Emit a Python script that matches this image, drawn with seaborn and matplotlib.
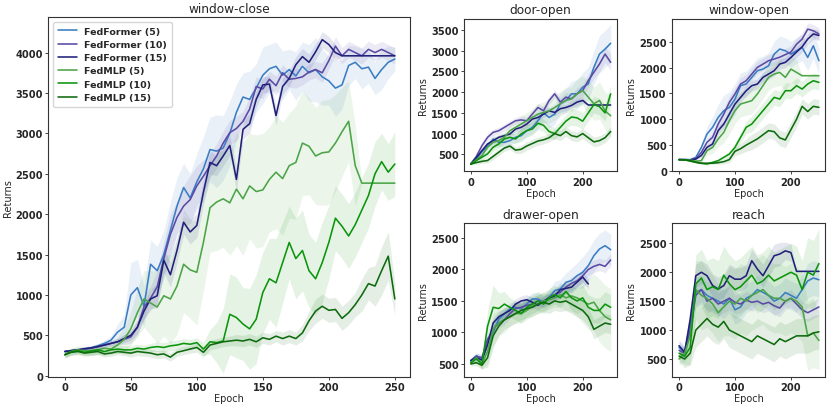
import numpy as np
import matplotlib
matplotlib.use("Agg")
import matplotlib.pyplot as plt
import seaborn as sns

nan = np.nan

# epochs
ep5 = np.arange(0, 251, 5)
ep10 = np.arange(0, 251, 10)

labels = ["FedFormer (5)", "FedFormer (10)", "FedFormer (15)",
          "FedMLP (5)", "FedMLP (10)", "FedMLP (15)"]
colors = ["#3a7dc3", "#5a4aa4", "#20207a", "#4ba447", "#0c940c", "#0d6a0d"]

# window-close (every 5 epochs)
wc_ff5 = [300, 310, 320, 330, 345, 370, 400, 440, 540, 600, 1000, 1090, 860, 1380, 1300, 1500, 1800,
          2100, 2330, 2200, 2400, 2560, 2800, 2780, 2820, 3000, 3260, 3450, 3420, 3560, 3720, 3800,
          3830, 3720, 3790, 3710, 3830, 3750, 3790, 3700, 3650, 3560, 3600, 3840, 3880, 3800, 3820,
          3680, 3790, 3880, 3920]
wc_ff10 = [300, 310, 320, 330, 340, 360, 380, 400, 420, 450, 480, 600, 850, 960, 1100, 1450, 1750,
           1960, 2100, 2180, 2350, 2470, 2600, 2720, 2880, 3010, 3060, 3150, 3300, 3580, 3550, 3670,
           3590, 3750, 3670, 3680, 3700, 3760, 3790, 3750, 3900, 4080, 3960, 4040, 4000, 3960, 4040,
           4000, 4040, 4000, 3960]
wc_ff15 = [300, 310, 320, 335, 345, 360, 380, 400, 420, 460, 500, 600, 800, 950, 990, 1430, 1250,
           1550, 1900, 1780, 1860, 2270, 2640, 2600, 2720, 2850, 2430, 3050, 3120, 3420, 3600, 3610,
           3220, 3580, 3680, 3850, 3950, 3880, 4010, 4160, 4100, 4000, 3960, 3960, 3960, 3960, 3960,
           3960, 3960, 3960, 3960]
wc_mlp5 = [260, 300, 320, 310, 300, 320, 340, 330, 380, 450, 580, 780, 950, 900, 850, 990, 950,
           1110, 1380, 1310, 1280, 1650, 2080, 2150, 2190, 2140, 2310, 2190, 2350, 2280, 2300, 2430,
           2520, 2440, 2600, 2640, 2880, 2840, 2720, 2760, 2770, 2880, 3020, 3150, 2600, 2384, 2384,
           2384, 2384, 2384, 2384]
wc_mlp10 = [260, 300, 310, 290, 310, 320, 300, 320, 330, 320, 320, 340, 330, 350, 360, 350, 370,
            380, 400, 390, 410, 330, 420, 410, 430, 760, 720, 640, 580, 700, 1030, 1200, 1150, 1400,
            1650, 1450, 1550, 1300, 1200, 1400, 1650, 1950, 1850, 1730, 1870, 2050, 2230, 2500, 2650,
            2520, 2620]
wc_mlp15 = [260, 290, 300, 280, 290, 300, 270, 280, 300, 290, 280, 300, 290, 280, 260, 270, 230,
            290, 310, 330, 350, 290, 380, 400, 420, 430, 440, 430, 450, 420, 470, 450, 490, 460, 490,
            460, 530, 680, 800, 860, 810, 820, 710, 780, 880, 1000, 1140, 1110, 1300, 1480, 950]

wc_ff5_sd = [20, 20, 25, 25, 30, 30, 40, 50, 100, 150, 400, 350, 250, 300, 300, 300, 350, 350, 300,
             300, 350, 400, 400, 450, 400, 400, 350, 300, 350, 300, 350, 300, 300, 300, 250, 300, 300,
             350, 400, 350, 300, 350, 300, 250, 200, 250, 200, 200, 250, 200, 150]
wc_ff10_sd = [20, 20, 20, 25, 25, 30, 30, 35, 40, 60, 80, 100, 150, 150, 200, 200, 250, 200, 250, 300,
              250, 200, 150, 150, 150, 150, 150, 120, 150, 120, 120, 100, 120, 100, 100, 120, 100, 100,
              100, 120, 100, 120, 100, 100, 100, 100, 100, 100, 100, 100, 100]
wc_ff15_sd = [20, 20, 20, 25, 25, 30, 30, 35, 40, 50, 60, 80, 100, 120, 150, 150, 150, 150, 150, 150,
              150, 150, 150, 120, 120, 120, 150, 120, 120, 100, 100, 100, 120, 100, 100, 100, 100, 100,
              100, 100, 100, 100, 0, 0, 0, 0, 0, 0, 0, 0, 0]
wc_mlp5_sd = [40, 40, 50, 50, 50, 60, 60, 60, 100, 150, 200, 300, 350, 400, 450, 500, 550, 600, 600,
              600, 650, 600, 550, 600, 600, 650, 700, 700, 650, 700, 700, 650, 700, 700, 650, 700, 650,
              600, 600, 650, 650, 600, 550, 500, 500, 0, 0, 0, 0, 0, 0]
wc_mlp10_sd = [40, 40, 40, 40, 50, 50, 50, 50, 50, 50, 50, 50, 50, 50, 60, 60, 60, 60, 60, 60, 60, 80,
               150, 250, 400, 500, 500, 450, 500, 550, 500, 500, 550, 500, 450, 500, 500, 450, 450, 500,
               450, 400, 400, 400, 400, 400, 400, 400, 350, 350, 400]
wc_mlp15_sd = [40, 40, 40, 40, 40, 40, 40, 40, 40, 40, 50, 50, 50, 50, 50, 50, 50, 50, 50, 50, 60, 60,
               60, 60, 60, 60, 70, 70, 70, 70, 70, 70, 70, 80, 80, 80, 100, 120, 150, 150, 150, 150, 150,
               150, 150, 200, 200, 250, 300, 300, 200]

# door-open (every 10 epochs)
do_ff5 = [266, 400, 560, 700, 870, 790, 790, 830, 910, 950, 1070, 1150, 1310, 1500, 1390, 1470, 1720,
          1800, 1960, 1960, 2120, 2200, 2600, 2920, 3040, 3180]
do_ff10 = [266, 450, 710, 910, 1030, 1070, 1150, 1230, 1310, 1330, 1310, 1470, 1630, 1550, 1800, 1960,
           1760, 1880, 1840, 1960, 2040, 2280, 2480, 2680, 2920, 2720]
do_ff15 = [266, 420, 590, 750, 830, 910, 950, 990, 1110, 1150, 1230, 1350, 1390, 1470, 1550, 1510,
           1600, 1630, 1680, 1760, 1800, 1690, 1690, 1690, 1690, 1690]
do_mlp5 = [266, 370, 470, 670, 790, 830, 910, 1070, 1150, 1230, 1310, 1390, 1470, 1510, 1550, 1630,
           1720, 1800, 1840, 1960, 2040, 1880, 1720, 1800, 1550, 1430]
do_mlp10 = [266, 350, 430, 510, 670, 750, 870, 910, 870, 990, 1070, 1110, 1250, 1200, 1050, 1000, 1150,
            1300, 1400, 1380, 1300, 1500, 1700, 1650, 1500, 1960]
do_mlp15 = [266, 300, 330, 350, 450, 550, 650, 700, 600, 620, 700, 760, 820, 850, 900, 1000, 950, 1050,
            950, 920, 1000, 900, 800, 830, 900, 1050]
do_ff5_sd = [20, 40, 60, 80, 100, 100, 100, 100, 120, 150, 150, 150, 200, 200, 250, 250, 250, 300, 300,
             350, 350, 400, 400, 450, 450, 450]
do_ff10_sd = [20, 40, 60, 80, 80, 80, 80, 80, 80, 100, 100, 100, 100, 100, 100, 100, 100, 120, 120, 150,
              150, 150, 150, 200, 200, 200]
do_ff15_sd = [20, 40, 50, 60, 60, 60, 60, 60, 60, 80, 80, 80, 80, 80, 80, 80, 80, 80, 80, 80, 80, 0, 0,
              0, 0, 0]
do_mlp5_sd = [20, 50, 80, 100, 120, 150, 150, 150, 150, 200, 200, 200, 250, 250, 300, 300, 300, 300,
              300, 350, 350, 400, 400, 450, 450, 500]
do_mlp10_sd = [20, 50, 60, 80, 100, 100, 120, 120, 120, 150, 150, 150, 150, 150, 150, 150, 150, 150,
               200, 200, 200, 200, 200, 200, 200, 200]
do_mlp15_sd = [20, 40, 50, 60, 80, 80, 80, 80, 80, 100, 100, 100, 100, 100, 100, 120, 120, 120, 120,
               120, 120, 120, 120, 120, 120, 120]

# window-open
wo_ff5 = [219, 219, 219, 264, 457, 715, 844, 1037, 1166, 1230, 1391, 1649, 1681, 1810, 1938, 1970,
          2035, 2260, 2357, 2325, 2260, 2325, 2389, 2196, 2421, 2132]
wo_ff10 = [219, 219, 215, 240, 360, 554, 650, 908, 1101, 1327, 1488, 1681, 1745, 1874, 2003, 2067,
           2132, 2164, 2200, 2250, 2300, 2450, 2550, 2743, 2711, 2650]
wo_ff15 = [219, 219, 215, 230, 300, 457, 522, 780, 908, 1101, 1294, 1423, 1552, 1649, 1681, 1810, 1874,
           1938, 2067, 2100, 2196, 2300, 2400, 2550, 2650, 2620]
wo_mlp5 = [219, 215, 210, 190, 200, 393, 457, 618, 747, 972, 1166, 1294, 1327, 1359, 1488, 1649, 1810,
           1874, 1906, 1810, 1970, 1906, 1842, 1842, 1842, 1842]
wo_mlp10 = [219, 215, 190, 167, 148, 135, 167, 200, 264, 328, 457, 650, 844, 908, 1037, 1166, 1294,
            1423, 1391, 1552, 1552, 1649, 1584, 1681, 1745, 1713]
wo_mlp15 = [219, 215, 200, 170, 150, 150, 150, 160, 180, 220, 380, 430, 500, 560, 620, 700, 780, 760,
            640, 600, 800, 1000, 1250, 1150, 1250, 1230]
wo_ff5_sd = [10, 10, 15, 30, 80, 150, 200, 250, 300, 300, 300, 250, 250, 250, 250, 250, 250, 250, 250,
             250, 250, 250, 250, 250, 250, 250]
wo_ff10_sd = [10, 10, 15, 20, 40, 60, 80, 100, 100, 120, 120, 120, 120, 120, 120, 120, 120, 120, 120,
              120, 120, 120, 120, 120, 120, 120]
wo_ff15_sd = [10, 10, 15, 20, 40, 60, 80, 80, 80, 100, 100, 100, 100, 100, 100, 100, 100, 100, 100,
              100, 100, 100, 100, 100, 100, 100]
wo_mlp5_sd = [10, 10, 15, 20, 40, 80, 120, 150, 200, 250, 250, 250, 250, 250, 250, 250, 250, 250, 250,
              250, 250, 250, 0, 0, 0, 0]
wo_mlp10_sd = [10, 10, 10, 15, 15, 20, 20, 30, 40, 60, 80, 100, 120, 150, 150, 150, 150, 150, 150, 150,
               150, 150, 150, 150, 150, 150]
wo_mlp15_sd = [10, 10, 10, 15, 15, 20, 20, 30, 40, 60, 80, 100, 120, 150, 150, 150, 150, 150, 150, 150,
               150, 150, 150, 150, 150, 150]

# drawer-open
dr_ff5 = [553, 632, 580, 897, 1003, 1214, 1294, 1373, 1400, 1373, 1452, 1532, 1532, 1479, 1558, 1664,
          1690, 1796, 1823, 1902, 1955, 2060, 2219, 2325, 2378, 2314]
dr_ff10 = [553, 620, 600, 880, 1050, 1150, 1200, 1300, 1380, 1400, 1430, 1450, 1500, 1480, 1560, 1600,
           1640, 1720, 1780, 1820, 1900, 2000, 2050, 2080, 2050, 2150]
dr_ff15 = [553, 600, 560, 800, 1150, 1250, 1300, 1350, 1450, 1500, 1520, 1480, 1430, 1500, 1540, 1580,
           1680, 1700, 1720, 1800, 1880, 1770, nan, nan, nan, nan]
dr_mlp5 = [520, 600, 500, 700, 1050, 1150, 1200, 1250, 1300, 1300, 1350, 1420, 1450, 1500, 1520, 1550,
           1600, 1550, 1580, 1550, 1500, 1450, 1480, 1350, 1250, 1200]
dr_mlp10 = [520, 580, 500, 1100, 1400, 1380, 1450, 1400, 1350, 1300, 1400, 1450, 1500, 1450, 1550, 1600,
            1550, 1650, 1550, 1500, 1550, 1400, 1350, 1350, 1450, 1400]
dr_mlp15 = [500, 520, 480, 600, 950, 1100, 1200, 1250, 1300, 1350, 1380, 1400, 1450, 1480, 1450, 1500,
            1480, 1500, 1450, 1400, 1350, 1250, 1050, 1100, 1150, 1130]
dr_ff5_sd = [30, 50, 60, 80, 100, 100, 100, 100, 100, 100, 100, 100, 100, 100, 120, 150, 150, 150, 200,
             200, 250, 250, 250, 250, 250, 250]
dr_ff10_sd = [30, 50, 60, 80, 80, 80, 80, 80, 80, 80, 80, 80, 80, 80, 80, 100, 100, 100, 100, 100, 100,
              100, 100, 100, 100, 100]
dr_ff15_sd = [30, 50, 60, 80, 80, 80, 80, 80, 80, 80, 80, 80, 80, 80, 80, 80, 80, 80, 80, 80, 80, 80,
              nan, nan, nan, nan]
dr_mlp5_sd = [30, 50, 80, 200, 250, 200, 200, 150, 150, 150, 150, 150, 150, 150, 150, 150, 200, 200,
              250, 300, 350, 400, 450, 500, 500, 500]
dr_mlp10_sd = [30, 60, 80, 250, 350, 250, 200, 150, 150, 150, 150, 150, 150, 150, 150, 150, 150, 150,
               200, 200, 200, 200, 200, 200, 200, 200]
dr_mlp15_sd = [30, 50, 60, 150, 200, 150, 150, 150, 150, 150, 150, 150, 150, 150, 150, 150, 150, 150,
               150, 150, 150, 150, 150, 150, 150, 150]

# reach
re_ff5 = [700, 620, 1100, 1650, 1700, 1600, 1550, 1500, 1450, 1550, 1350, 1400, 1550, 1600, 1700, 1650,
          1600, 1500, 1550, 1650, 1600, 1550, 1700, 1850, 1900, 1870]
re_ff10 = [650, 600, 1000, 1600, 1700, 1500, 1550, 1450, 1500, 1550, 1480, 1450, 1520, 1480, 1500, 1450,
           1480, 1420, 1380, 1500, 1550, 1450, 1350, 1300, 1350, 1400]
re_ff15 = [730, 615, 1190, 1940, 2000, 1940, 1770, 1710, 1770, 1940, 1880, 1880, 1940, 2200, 2055, 1940,
           2110, 2285, 2315, 2370, 2340, 2015, 2015, 2015, 2015, 2015]
re_mlp5 = [500, 600, 900, 1700, 1600, 1550, 1450, 1300, 1400, 1500, 1450, 1550, 1500, 1600, 1650, 1700,
           1600, 1550, 1550, 1500, 1550, 1500, 1400, 900, 950, 820]
re_mlp10 = [600, 550, 700, 1800, 1900, 1700, 1750, 1700, 1950, 1800, 1700, 1750, 1850, 1950, 1800, 1850,
            1950, 1850, 1900, 1950, 2000, 1950, 1700, 2000, 1950, 2150]
re_mlp15 = [550, 500, 600, 1000, 1100, 1200, 1100, 1050, 1150, 1000, 950, 900, 850, 800, 900, 850, 800,
            750, 850, 800, 850, 900, 900, 900, 950, 970]
re_ff5_sd = [100, 100, 200, 250, 250, 250, 250, 250, 250, 250, 250, 250, 250, 250, 250, 250, 250, 250,
             250, 250, 250, 250, 250, 300, 300, 300]
re_ff10_sd = [100, 100, 150, 200, 200, 200, 200, 200, 200, 200, 200, 150, 150, 150, 150, 150, 150, 150,
              150, 150, 150, 150, 150, 150, 150, 150]
re_ff15_sd = [100, 100, 200, 200, 200, 200, 200, 200, 200, 200, 200, 200, 200, 200, 200, 200, 200, 200,
              200, 150, 150, 0, 0, 0, 0, 0]
re_mlp5_sd = [100, 150, 300, 500, 600, 500, 500, 500, 500, 600, 600, 600, 600, 600, 600, 600, 600, 600,
              600, 600, 600, 600, 600, 600, 600, 500]
re_mlp10_sd = [100, 150, 300, 500, 500, 500, 500, 500, 500, 500, 500, 500, 500, 500, 500, 500, 500, 500,
               500, 500, 500, 500, 500, 600, 600, 600]
re_mlp15_sd = [100, 150, 200, 300, 300, 300, 300, 300, 300, 300, 300, 300, 300, 300, 300, 300, 300, 300,
               300, 300, 300, 300, 300, 300, 300, 300]

panels = [
    ("window-close", ep5, [wc_ff5, wc_ff10, wc_ff15, wc_mlp5, wc_mlp10, wc_mlp15],
     [wc_ff5_sd, wc_ff10_sd, wc_ff15_sd, wc_mlp5_sd, wc_mlp10_sd, wc_mlp15_sd]),
    ("door-open", ep10, [do_ff5, do_ff10, do_ff15, do_mlp5, do_mlp10, do_mlp15],
     [do_ff5_sd, do_ff10_sd, do_ff15_sd, do_mlp5_sd, do_mlp10_sd, do_mlp15_sd]),
    ("window-open", ep10, [wo_ff5, wo_ff10, wo_ff15, wo_mlp5, wo_mlp10, wo_mlp15],
     [wo_ff5_sd, wo_ff10_sd, wo_ff15_sd, wo_mlp5_sd, wo_mlp10_sd, wo_mlp15_sd]),
    ("drawer-open", ep10, [dr_ff5, dr_ff10, dr_ff15, dr_mlp5, dr_mlp10, dr_mlp15],
     [dr_ff5_sd, dr_ff10_sd, dr_ff15_sd, dr_mlp5_sd, dr_mlp10_sd, dr_mlp15_sd]),
    ("reach", ep10, [re_ff5, re_ff10, re_ff15, re_mlp5, re_mlp10, re_mlp15],
     [re_ff5_sd, re_ff10_sd, re_ff15_sd, re_mlp5_sd, re_mlp10_sd, re_mlp15_sd]),
]

sns.set_style("ticks")
plt.rcParams['font.family'] = ['DejaVu Sans']

fig = plt.figure(figsize=(8.31, 4.10), dpi=100)
# axes rectangles: big panel on the left, 2x2 grid on the right
rects = [
    [0.0581, 0.0788, 0.4353, 0.8766],
    [0.5581, 0.5793, 0.1845, 0.3731],
    [0.8087, 0.5793, 0.1845, 0.3731],
    [0.5581, 0.0788, 0.1845, 0.3741],
    [0.8087, 0.0788, 0.1845, 0.3741],
]
ylims = [(-12, 4437), (85, 3778), (-10, 2948), (298, 2733), (194, 2846)]
yticks = [np.arange(0, 4001, 500), np.arange(500, 3501, 500), np.arange(0, 2501, 500),
          np.arange(500, 2501, 500), np.arange(500, 2501, 500)]
xticks = [np.arange(0, 251, 50), [0, 100, 200], [0, 100, 200], [0, 100, 200], [0, 100, 200]]

for i, (title, x, means, sds) in enumerate(panels):
    ax = fig.add_axes(rects[i])
    for m, s, c, lab in zip(means, sds, colors, labels):
        m = np.array(m, dtype=float)
        s = np.array(s, dtype=float)
        ax.fill_between(x, m - s, m + s, color=c, alpha=0.11, lw=0)
        sns.lineplot(x=x, y=m, ax=ax, color=c, lw=1.15, label=lab, legend=(i == 0))
    ax.set_xlim(-12.5, 261.5)
    ax.set_ylim(*ylims[i])
    ax.set_xticks(xticks[i])
    ax.set_yticks(yticks[i])
    ax.set_title(title, fontsize=8.7, pad=4)
    ax.set_xlabel("Epoch", fontsize=7.0, labelpad=1)
    ax.set_ylabel("Returns", fontsize=7.0, labelpad=2)
    ax.tick_params(labelsize=7.1, length=2.2, width=0.6, pad=1.5)
    for lbl in ax.get_xticklabels() + ax.get_yticklabels():
        lbl.set_fontweight('bold')
    for sp in ax.spines.values():
        sp.set_color('#333333')
        sp.set_linewidth(0.8)
    if i == 0:
        ax.legend(loc='upper left', prop={'size': 6.8, 'weight': 'bold'},
                  frameon=True, edgecolor='#cccccc', borderpad=0.5, labelspacing=0.45,
                  handlelength=2.0)

plt.savefig('out.png', dpi=100)
